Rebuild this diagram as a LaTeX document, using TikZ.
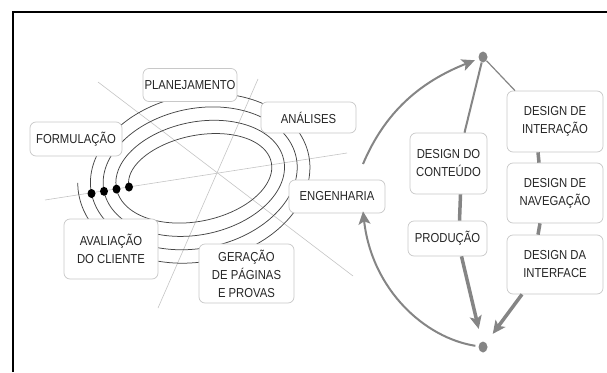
\documentclass[tikz,border=0pt]{standalone}
\usepackage{fontspec}
\setmainfont{Liberation Sans}[FakeStretch=0.87]
\usetikzlibrary{arrows.meta,shapes.geometric}
\definecolor{txt}{HTML}{262626}
\definecolor{boxc}{HTML}{C8C8C8}
\definecolor{arr}{HTML}{858585}
\definecolor{spir}{HTML}{454545}
\definecolor{radc}{HTML}{C4C4C4}
\begin{document}
\begin{tikzpicture}[x=1pt,y=-1pt,
  box/.style={draw=boxc, line width=0.7pt, rounded corners=6pt, fill=white, text=txt,
    align=center, inner sep=0pt, font=\fontsize{13}{18}\selectfont},
  radial/.style={draw=radc, line width=0.6pt},
  spiralline/.style={draw=spir, line width=0.75pt},
  bdot/.style={ellipse, fill=black, inner sep=0pt, minimum width=8, minimum height=9},
  gdot/.style={ellipse, fill=arr, inner sep=0pt, minimum width=9, minimum height=11},
  garrow/.style={draw=arr, line width=#1, -{Stealth[length=13pt,width=12pt,inset=3pt]}},
  gline/.style={draw=arr, line width=#1},
  frameline/.style={draw=black, line width=2pt}
]
\useasboundingbox (0,0) rectangle (607,372);
% frame
\coordinate (f1) at (12.5,372);
\coordinate (f2) at (12.5,12);
\coordinate (f3) at (607,12);
\draw[frameline] (f1) -- (f2) -- (f3);

% radial lines
\coordinate (r1a) at (45,200);
\coordinate (r1b) at (347,153);
\coordinate (r2a) at (98,82);
\coordinate (r2b) at (353,276);
\coordinate (r3a) at (258,79);
\coordinate (r3b) at (158,308);
\draw[radial] (r1a) -- (r1b);
\draw[radial] (r2a) -- (r2b);
\draw[radial] (r3a) -- (r3b);

% spiral
\draw[spiralline] plot[smooth, domain=0:25.28, samples=320, variable=\t]
 ({197 + (-(69+12.7*\t/6.2832)*cos(\t r))*cos(10) + (-(36+13.5*\t/6.2832)*sin(\t r))*sin(10)},
  {175 - (-(69+12.7*\t/6.2832)*cos(\t r))*sin(10) + (-(36+13.5*\t/6.2832)*sin(\t r))*cos(10)});

% spiral dots
\node[bdot] (d1) at (91.5,193.5) {};
\node[bdot] (d2) at (104,191.3) {};
\node[bdot] (d3) at (116.5,189.1) {};
\node[bdot] (d4) at (129,187) {};

% boxes of the spiral
\node[box, minimum width=94, minimum height=33] (plan) at (190,85) {PLANEJAMENTO};
\node[box, minimum width=92, minimum height=34] (form) at (76,139) {FORMULAÇÃO};
\node[box, minimum width=95, minimum height=31] (anal) at (308.5,117.5) {ANÁLISES};
\node[box, minimum width=96, minimum height=33] (eng) at (337,196.5) {ENGENHARIA};
\node[box, minimum width=94, minimum height=60] (aval) at (111,249) {AVALIAÇÃO\\DO CLIENTE};
\node[box, minimum width=95, minimum height=59] (ger) at (246.5,273.5) {GERAÇÃO\\DE PÁGINAS\\E PROVAS};

% right side
\node[gdot] (T) at (483,57) {};
\node[gdot] (B) at (483,347) {};
\node[box, minimum width=77, minimum height=61] (cont) at (448.5,163.5) {DESIGN DO\\CONTEÚDO};
\node[box, minimum width=79, minimum height=35] (prod) at (447.5,238.5) {PRODUÇÃO};
\node[box, minimum width=96, minimum height=61] (inter) at (555,121.5) {DESIGN DE\\INTERAÇÃO};
\node[box, minimum width=96, minimum height=60] (nav) at (555,193) {DESIGN DE\\NAVEGAÇÃO};
\node[box, minimum width=96, minimum height=59] (intf) at (555,264.5) {DESIGN DA\\INTERFACE};

\coordinate (a1s) at (363,164);
\draw[garrow=2pt, shorten >=4pt] (a1s) .. controls (385,112) and (420,82) .. (T);
\draw[garrow=2pt, shorten <=3pt] (B) .. controls (425,338) and (372,290) .. ([xshift=26pt,yshift=2pt]eng.south);
\draw[gline=2pt] (T) -- ([xshift=16pt]cont.north);
\draw[gline=1.2pt] (T) -- ([xshift=-40pt]inter.north);
\draw[gline=3.5pt] ([xshift=12pt]cont.south) -- ([xshift=12pt]prod.north);
\draw[gline=3.5pt] ([xshift=-17pt]inter.south) -- ([xshift=-16pt]nav.north);
\draw[gline=3.5pt] ([xshift=-15pt]nav.south) -- ([xshift=-17pt]intf.north);
\draw[garrow=3.5pt, shorten >=13pt] ([xshift=14pt]prod.south) -- (B);
\draw[garrow=3.5pt, shorten >=11pt] ([xshift=-33pt]intf.south) -- (B);
\end{tikzpicture}
\end{document}
